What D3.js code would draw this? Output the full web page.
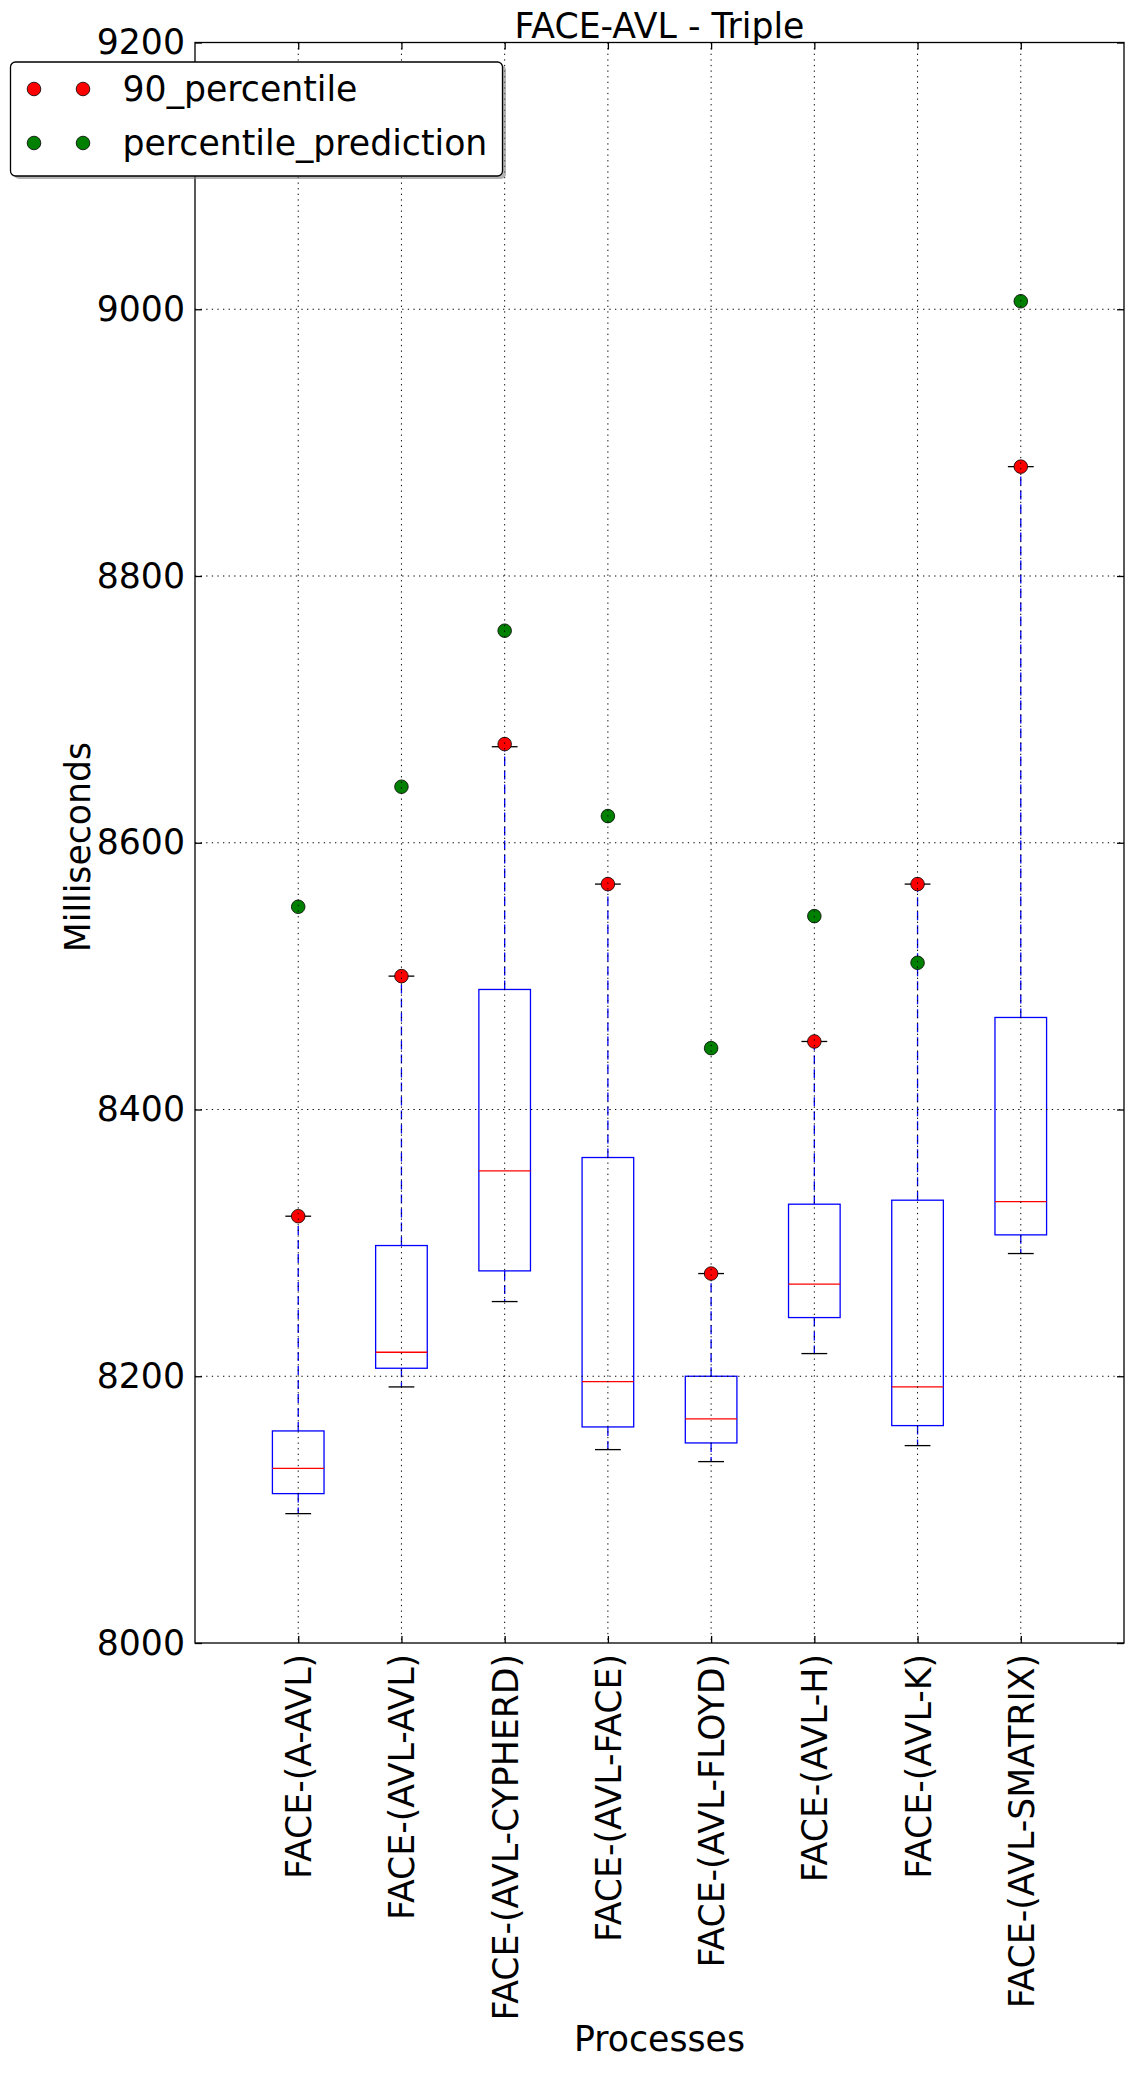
<!DOCTYPE html>
<html lang="en">
<head>
    <meta charset="UTF-8">
    <title>FACE-AVL - Triple</title>
    <script src="https://d3js.org/d3.v7.min.js"></script>
    <style>
        body { margin: 0; background: #fff; }
        text { font-family: "DejaVu Sans", sans-serif; fill: #000; }
        .grid line { stroke: #000; stroke-width: 1; stroke-dasharray: 1.3,4.3; }
    </style>
</head>
<body>
    <div id="chart"></div>

    <script>
        // Data
        const categories = ["FACE-(A-AVL)", "FACE-(AVL-AVL)", "FACE-(AVL-CYPHERD)", "FACE-(AVL-FACE)",
            "FACE-(AVL-FLOYD)", "FACE-(AVL-H)", "FACE-(AVL-K)", "FACE-(AVL-SMATRIX)"];
        const whiskerLow = [8097, 8192, 8256, 8145, 8136, 8217, 8148, 8292];
        const q1 = [8112, 8206, 8279, 8162, 8150, 8244, 8163, 8306];
        const median = [8131, 8218, 8354, 8196, 8168, 8269, 8192, 8331];
        const q3 = [8159, 8298, 8490, 8364, 8200, 8329, 8332, 8469];
        const whiskerHigh = [8320, 8500, 8672, 8569, 8277, 8451, 8569, 8882];
        const percentile90 = [8320, 8500, 8674, 8569, 8277, 8451, 8569, 8882];
        const prediction = [8552, 8642, 8759, 8620, 8446, 8545, 8510, 9006];
        const yTicks = [8000, 8200, 8400, 8600, 8800, 9000, 9200];

        const width = 1133, height = 2074;
        const plotLeft = 195, plotRight = 1124, plotTop = 42.5, plotBottom = 1643;
        const fontSize = 34.7;

        const svg = d3.select("#chart").append("svg")
            .attr("width", width)
            .attr("height", height);

        const x = d3.scaleLinear().domain([0, categories.length + 1]).range([plotLeft, plotRight]);
        const y = d3.scaleLinear().domain([8000, 9200]).range([plotBottom, plotTop]);
        const idx = categories.map((d, i) => i);
        const pos = i => x(i + 1);
        const boxW = x(0.5) - x(0);   // box width 0.5
        const capW = boxW / 2;

        // Boxes
        const g = svg.append("g");
        g.selectAll(".whisker-low").data(idx).enter().append("line")
            .attr("x1", pos).attr("x2", pos)
            .attr("y1", i => y(q1[i])).attr("y2", i => y(whiskerLow[i]))
            .attr("stroke", "#0000ff").attr("stroke-width", 1.3).attr("stroke-dasharray", "9,5");
        g.selectAll(".whisker-high").data(idx).enter().append("line")
            .attr("x1", pos).attr("x2", pos)
            .attr("y1", i => y(q3[i])).attr("y2", i => y(whiskerHigh[i]))
            .attr("stroke", "#0000ff").attr("stroke-width", 1.3).attr("stroke-dasharray", "9,5");
        g.selectAll(".box").data(idx).enter().append("rect")
            .attr("x", i => pos(i) - boxW / 2).attr("width", boxW)
            .attr("y", i => y(q3[i])).attr("height", i => y(q1[i]) - y(q3[i]))
            .attr("fill", "none").attr("stroke", "#0000ff").attr("stroke-width", 1.3);
        g.selectAll(".cap-low").data(idx).enter().append("line")
            .attr("x1", i => pos(i) - capW / 2).attr("x2", i => pos(i) + capW / 2)
            .attr("y1", i => y(whiskerLow[i])).attr("y2", i => y(whiskerLow[i]))
            .attr("stroke", "#000").attr("stroke-width", 1.3);
        g.selectAll(".cap-high").data(idx).enter().append("line")
            .attr("x1", i => pos(i) - capW / 2).attr("x2", i => pos(i) + capW / 2)
            .attr("y1", i => y(whiskerHigh[i])).attr("y2", i => y(whiskerHigh[i]))
            .attr("stroke", "#000").attr("stroke-width", 1.3);
        g.selectAll(".median").data(idx).enter().append("line")
            .attr("x1", i => pos(i) - boxW / 2).attr("x2", i => pos(i) + boxW / 2)
            .attr("y1", i => y(median[i])).attr("y2", i => y(median[i]))
            .attr("stroke", "#ff0000").attr("stroke-width", 1.3);

        // Markers
        g.selectAll(".p90").data(idx).enter().append("circle")
            .attr("cx", pos).attr("cy", i => y(percentile90[i])).attr("r", 6.8)
            .attr("fill", "#ff0000").attr("stroke", "#000").attr("stroke-width", 0.8);
        g.selectAll(".pred").data(idx).enter().append("circle")
            .attr("cx", pos).attr("cy", i => y(prediction[i])).attr("r", 6.8)
            .attr("fill", "#008000").attr("stroke", "#000").attr("stroke-width", 0.8);

        // Grid on top (classic style)
        svg.append("g").attr("class", "grid")
            .selectAll("line").data(yTicks.slice(1, -1)).enter().append("line")
            .attr("x1", plotLeft).attr("x2", plotRight)
            .attr("y1", d => y(d)).attr("y2", d => y(d));
        svg.append("g").attr("class", "grid")
            .selectAll("line").data(idx).enter().append("line")
            .attr("x1", pos).attr("x2", pos)
            .attr("y1", plotTop).attr("y2", plotBottom);

        // Axes
        const yAxis = svg.append("g")
            .attr("transform", `translate(${plotLeft},0)`)
            .call(d3.axisLeft(y).tickValues(yTicks).tickFormat(d3.format("d")).tickSizeInner(-7).tickSizeOuter(0).tickPadding(10));
        yAxis.select(".domain").remove();
        yAxis.selectAll("text").attr("font-size", fontSize).attr("font-family", "DejaVu Sans");
        yAxis.selectAll("line").attr("stroke-width", 1.3);

        const yRight = svg.append("g")
            .attr("transform", `translate(${plotRight},0)`)
            .call(d3.axisRight(y).tickValues(yTicks).tickFormat("").tickSizeInner(-7).tickSizeOuter(0));
        yRight.select(".domain").remove();
        yRight.selectAll("line").attr("stroke-width", 1.3);

        const xAxis = svg.append("g")
            .attr("transform", `translate(0,${plotBottom})`)
            .call(d3.axisBottom(x).tickValues(idx.map(i => i + 1)).tickFormat(d => categories[d - 1])
                .tickSizeInner(-7).tickSizeOuter(0).tickPadding(0));
        xAxis.select(".domain").remove();
        xAxis.selectAll("line").attr("stroke-width", 1.3);
        xAxis.selectAll("text")
            .attr("font-size", fontSize).attr("font-family", "DejaVu Sans")
            .attr("text-anchor", "end")
            .attr("transform", "translate(0,11) rotate(-90)")
            .attr("x", 0).attr("y", 0).attr("dy", "0.36em");

        const xTop = svg.append("g")
            .attr("transform", `translate(0,${plotTop})`)
            .call(d3.axisTop(x).tickValues(idx.map(i => i + 1)).tickFormat("").tickSizeInner(-7).tickSizeOuter(0));
        xTop.select(".domain").remove();
        xTop.selectAll("line").attr("stroke-width", 1.3);

        // Frame
        svg.append("rect")
            .attr("x", plotLeft).attr("y", plotTop)
            .attr("width", plotRight - plotLeft).attr("height", plotBottom - plotTop)
            .attr("fill", "none").attr("stroke", "#000").attr("stroke-width", 1.3);

        // Labels
        svg.append("text").attr("x", (plotLeft + plotRight) / 2).attr("y", 37.5)
            .attr("text-anchor", "middle").attr("font-size", fontSize).text("FACE-AVL - Triple");
        svg.append("text").attr("x", (plotLeft + plotRight) / 2).attr("y", 2051)
            .attr("text-anchor", "middle").attr("font-size", fontSize).text("Processes");
        svg.append("text").attr("transform", "translate(90,847) rotate(-90)")
            .attr("text-anchor", "middle").attr("font-size", fontSize).text("Milliseconds");

        // Legend
        const legend = svg.append("g");
        legend.append("rect").attr("x", 14).attr("y", 65).attr("width", 492).attr("height", 114)
            .attr("rx", 5).attr("fill", "#808080").attr("opacity", 0.6);
        legend.append("rect").attr("x", 10.5).attr("y", 62).attr("width", 492).attr("height", 114)
            .attr("rx", 5).attr("fill", "#fff").attr("stroke", "#000").attr("stroke-width", 1.3);
        const legendItems = [
            { label: "90_percentile", color: "#ff0000" },
            { label: "percentile_prediction", color: "#008000" }
        ];
        legendItems.forEach((d, i) => {
            const ly = 89 + i * 54;
            [34, 83].forEach(mx => {
                legend.append("circle").attr("cx", mx).attr("cy", ly).attr("r", 6.8)
                    .attr("fill", d.color).attr("stroke", "#000").attr("stroke-width", 0.8);
            });
            legend.append("text").attr("x", 122.5).attr("y", ly).attr("dy", "0.36em")
                .attr("font-size", fontSize).text(d.label);
        });
    </script>
</body>
</html>
